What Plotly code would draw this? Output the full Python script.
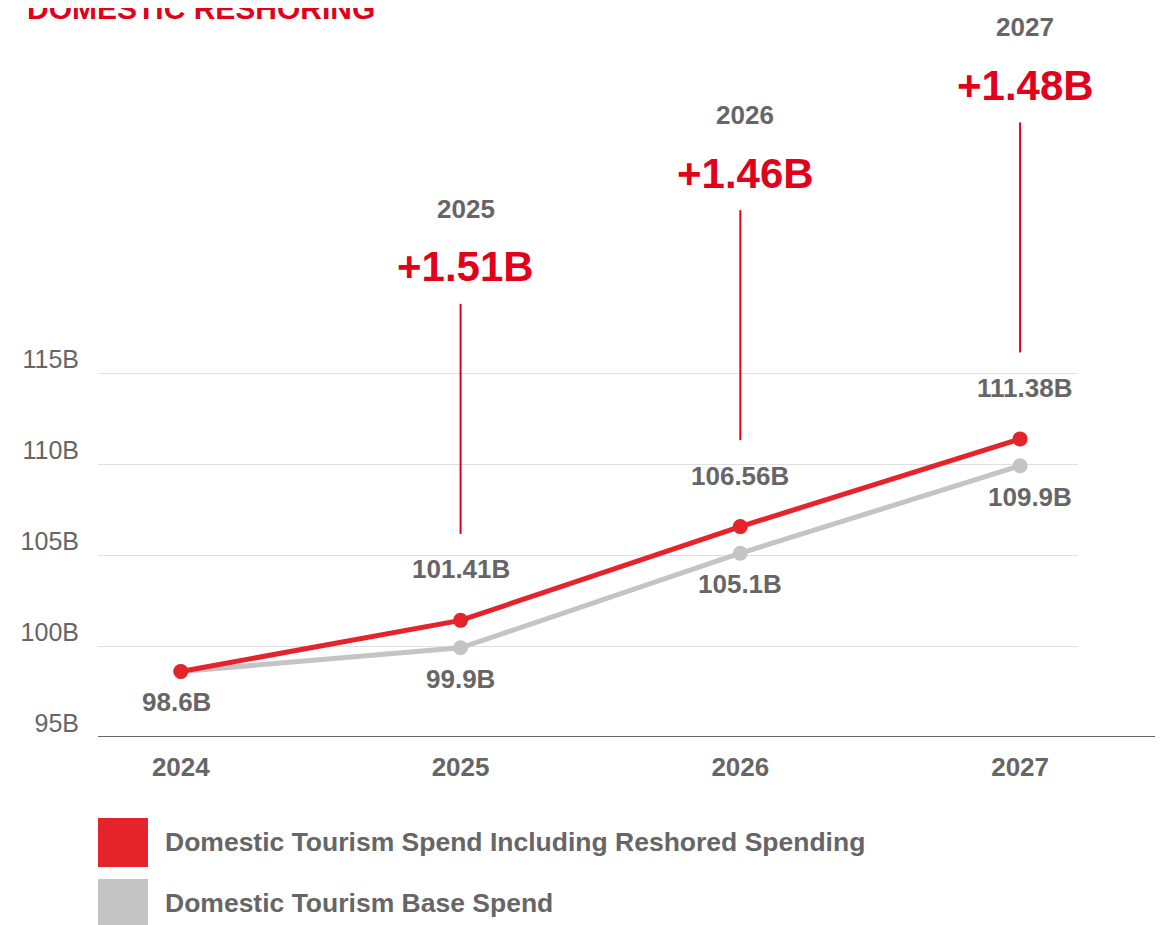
import plotly.graph_objects as go

years = [2024, 2025, 2026, 2027]
reshored = [98.6, 101.41, 106.56, 111.38]
base = [98.6, 99.9, 105.1, 109.9]
delta_years = [2025, 2026, 2027]
deltas = ["+1.51B", "+1.46B", "+1.48B"]
series_names = ["Domestic Tourism Spend Including Reshored Spending", "Domestic Tourism Base Spend"]
ytick_vals = [95, 100, 105, 110, 115]
ytick_text = ["95B", "100B", "105B", "110B", "115B"]
title_text = "DOMESTIC RESHORING"

RED = "#E4232A"
RED_TXT = "#E2001A"
GRAY = "#C4C4C4"
TXT = "#666666"
FONT = "Liberation Sans, Arial, sans-serif"

OFF = 8  # page body margin
W, H = 1168 - OFF, 925 - OFF
ML = 98 - OFF
plot_right = 1078 - OFF
MR = W - plot_right
axis_y = 737 - OFF
MT = 0
MB = H - axis_y
plot_h = axis_y - MT
plot_w = plot_right - ML
px_per_unit = 18.2
y0 = 95
y1 = y0 + plot_h / px_per_unit
x_range = [2023.704, 2027.207]


def px_x(p):
    return (p - OFF - ML) / plot_w


def px_y(p):
    return (plot_h - (p - OFF - MT)) / plot_h


fig = go.Figure()
fig.add_trace(go.Scatter(x=years, y=base, mode="lines+markers", name=series_names[1],
                         line=dict(color=GRAY, width=5), marker=dict(size=15, color=GRAY),
                         showlegend=False, cliponaxis=False))
fig.add_trace(go.Scatter(x=years, y=reshored, mode="lines+markers", name=series_names[0],
                         line=dict(color=RED, width=5), marker=dict(size=15, color=RED),
                         showlegend=False, cliponaxis=False))

ann = []
for i, (yr, v) in enumerate(zip(years, reshored)):
    if i == 0:
        continue
    ann.append(dict(x=yr, y=v, xref="x", yref="y", text=f"<b>{v:g}B</b>", showarrow=False,
                    yshift=51, xshift=4 if i == 3 else 0, font=dict(family=FONT, size=26, color=TXT)))
for i, (yr, v) in enumerate(zip(years, base)):
    ann.append(dict(x=yr, y=v, xref="x", yref="y", text=f"<b>{v:g}B</b>", showarrow=False,
                    yshift=-31, xshift=(-4 if i == 0 else (10 if i == 3 else 0)),
                    font=dict(family=FONT, size=26, color=TXT)))

shapes = []
off_lo = 4.75
line_len = 230 / px_per_unit
for yr, d in zip(delta_years, deltas):
    v = reshored[years.index(yr)]
    lo = v + off_lo
    hi = lo + line_len
    shapes.append(dict(type="line", xref="x", yref="y", x0=yr, x1=yr, y0=lo, y1=hi,
                       line=dict(color=RED_TXT, width=2)))
    ann.append(dict(x=yr, y=hi, xref="x", yref="y", text=f"<b>{d}</b>", showarrow=False,
                    yshift=37, xshift=5, font=dict(family=FONT, size=42, color=RED_TXT)))
    ann.append(dict(x=yr, y=hi, xref="x", yref="y", text=f"<b>{yr}</b>", showarrow=False,
                    yshift=95, xshift=5, font=dict(family=FONT, size=26, color=TXT)))

# bottom axis line extended
shapes.append(dict(type="line", xref="paper", yref="y", x0=0, x1=px_x(1155), y0=95, y1=95,
                   line=dict(color="#666666", width=2)))

# legend (custom)
legend_colors = [RED, GRAY]
legend_tops = [818, 879]
for name, col, top in zip(series_names, legend_colors, legend_tops):
    shapes.append(dict(type="rect", xref="paper", yref="paper",
                       x0=px_x(98), x1=px_x(148), y0=px_y(top + 49), y1=px_y(top),
                       line=dict(width=0), fillcolor=col))
    ann.append(dict(xref="paper", yref="paper", x=px_x(163), y=px_y(top + 24),
                    xanchor="left", yanchor="middle", text=f"<b>{name}</b>", showarrow=False,
                    font=dict(family=FONT, size=26.5, color=TXT)))

# title (partially cut at top, as in the reference)
ann.append(dict(xref="paper", yref="paper", x=px_x(25), y=px_y(27),
                xanchor="left", yanchor="bottom", text=f"<b>{title_text}</b>", showarrow=False,
                font=dict(family=FONT, size=30, color=RED_TXT)))

fig.update_layout(
    width=W, height=H,
    margin=dict(l=ML, r=MR, t=MT, b=MB),
    plot_bgcolor="white", paper_bgcolor="white",
    showlegend=False,
    annotations=ann, shapes=shapes,
    xaxis=dict(range=x_range, tickvals=years, ticktext=[f"<b>{y}</b>" for y in years],
               showgrid=False, zeroline=False, showline=False, ticks="",
               tickfont=dict(family=FONT, size=26, color=TXT), ticklabelstandoff=12),
    yaxis=dict(range=[y0, y1], tickvals=ytick_vals, ticktext=ytick_text,
               showgrid=True, gridcolor="#E0E0E0", gridwidth=1, zeroline=False, showline=False,
               ticks="", tickfont=dict(family=FONT, size=25, color=TXT),
               ticklabelstandoff=18, ticklabelshift=-14),
)

fig.write_html("out.html")
